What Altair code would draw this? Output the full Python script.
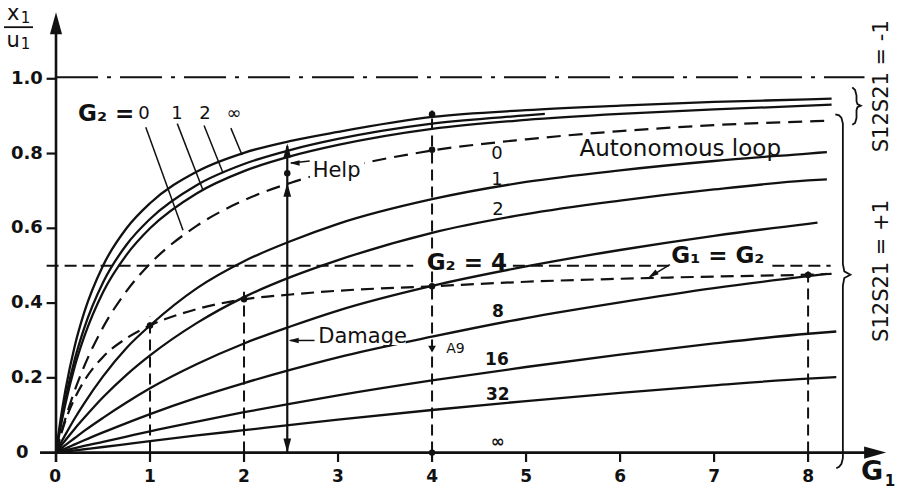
import altair as alt
import pandas as pd

INK = "#111111"
FONT = "DejaVu Sans"

# ---------------- data ----------------
G1 = [0, 0.05, 0.1, 0.2, 0.3, 0.5, 0.75, 1, 1.5, 2, 2.5, 3, 4, 5, 6, 7, 8]

# S12S21 = -1 family (upper solid curves)
NEG_G2_INF = [0, 0.091, 0.167, 0.286, 0.375, 0.500, 0.600, 0.667, 0.752, 0.802, 0.834, 0.858, 0.898, 0.916, 0.928, 0.938, 0.945]
NEG_G2_2 = [0, 0.077, 0.143, 0.250, 0.333, 0.455, 0.556, 0.625, 0.716, 0.772, 0.810, 0.839, 0.880, 0.902]
NEG_G2_1 = [0, 0.070, 0.130, 0.231, 0.310, 0.429, 0.529, 0.600, 0.694, 0.753, 0.793, 0.823, 0.866, 0.890, 0.906, 0.918, 0.928]
# autonomous loop (G2 = 0), dashed
AUTONOMOUS = [0, 0.048, 0.091, 0.167, 0.231, 0.335, 0.432, 0.505, 0.607, 0.675, 0.722, 0.758, 0.808, 0.838, 0.860, 0.876, 0.886]
# S12S21 = +1 family
POS_G2_1 = [0, 0.025, 0.048, 0.092, 0.132, 0.204, 0.280, 0.340, 0.440, 0.512, 0.566, 0.612, 0.678, 0.724, 0.755, 0.780, 0.800]
POS_G2_2 = [0, 0.017, 0.033, 0.064, 0.093, 0.148, 0.208, 0.260, 0.347, 0.416, 0.470, 0.515, 0.588, 0.638, 0.674, 0.704, 0.728]
POS_G2_4 = [0, 0.010, 0.020, 0.039, 0.058, 0.093, 0.134, 0.172, 0.237, 0.292, 0.338, 0.380, 0.446, 0.498, 0.542, 0.580, 0.612]
POS_G2_8 = [0, 0.006, 0.011, 0.022, 0.033, 0.054, 0.079, 0.103, 0.147, 0.186, 0.222, 0.255, 0.310, 0.360, 0.402, 0.440, 0.472]
POS_G2_16 = [0, 0.003, 0.006, 0.012, 0.018, 0.029, 0.043, 0.057, 0.083, 0.108, 0.131, 0.153, 0.193, 0.229, 0.262, 0.292, 0.318]
POS_G2_32 = [0, 0.0015, 0.003, 0.006, 0.009, 0.015, 0.023, 0.031, 0.046, 0.060, 0.074, 0.088, 0.114, 0.138, 0.160, 0.180, 0.198]
# G1 = G2 locus, dashed
G1_EQ_G2 = [0, 0.046, 0.085, 0.146, 0.192, 0.256, 0.306, 0.340, 0.384, 0.410, 0.423, 0.433, 0.445, 0.457, 0.465, 0.471, 0.476]

# where each drawn curve stops (G1, value)
CURVE_END_G1 = [8.25, 5.2, 8.25, 8.25, 8.2, 8.2, 8.1, 8.2, 8.3, 8.3, 8.25]
CURVE_END_VAL = [0.947, 0.906, 0.931, 0.888, 0.804, 0.731, 0.615, 0.478, 0.324, 0.202, 0.478]
CURVE_NAMES = ["neg_inf", "neg_2", "neg_1", "auto", "pos_1", "pos_2", "pos_4", "pos_8", "pos_16", "pos_32", "g1g2"]
CURVE_VALUES = [NEG_G2_INF, NEG_G2_2, NEG_G2_1, AUTONOMOUS, POS_G2_1, POS_G2_2, POS_G2_4,
                POS_G2_8, POS_G2_16, POS_G2_32, G1_EQ_G2]
CURVE_STYLE = ["solid", "solid", "solid", "auto", "solid", "solid", "solid", "solid", "solid", "solid", "g1g2"]

# marked points
DOT_G1 = [4, 4, 4, 4, 1, 2, 8]
DOT_VAL = [0.905, 0.81, 0.445, 0.0, 0.34, 0.41, 0.475]
A9_G1 = [4]
A9_VAL = [0.277]

# ticks
X_TICKS = [0, 1, 2, 3, 4, 5, 6, 7, 8]
Y_TICKS = [0.2, 0.4, 0.6, 0.8, 1.0]
Y_TICK_LABELS = ["0.2", "0.4", "0.6", "0.8", "1.0"]

# reference lines
UNITY = 1.004
HALF = 0.5
HALF_FROM = [-0.1, 4.86, 7.62]
HALF_TO = [3.80, 6.55, 8.24]
DROP_G1 = [1, 2, 4, 8]
DROP_TOP = [0.365, 0.43, 0.915, 0.49]

# ---------------- scales ----------------
xs = alt.Scale(domain=[-0.5, 8.85], nice=False, zero=False)
ys = alt.Scale(domain=[-0.1, 1.2], nice=False, zero=False)


def X(f="x"):
    return alt.X(f"{f}:Q", scale=xs, axis=None)


def Y(f="y"):
    return alt.Y(f"{f}:Q", scale=ys, axis=None)


rows = []
for name, vals, style, ex, ev in zip(CURVE_NAMES, CURVE_VALUES, CURVE_STYLE, CURVE_END_G1, CURVE_END_VAL):
    for g, v in zip(G1, vals):
        rows.append({"curve": name, "style": style, "x": g, "y": v})
    rows.append({"curve": name, "style": style, "x": ex, "y": ev})
curves = pd.DataFrame(rows)

solid = alt.Chart(curves[curves["style"] == "solid"]).mark_line(
    color=INK, strokeWidth=2.3, interpolate="monotone").encode(x=X(), y=Y(), detail="curve:N")
auto = alt.Chart(curves[curves["style"] == "auto"]).mark_line(
    color=INK, strokeWidth=2.2, strokeDash=[14, 8], interpolate="monotone").encode(x=X(), y=Y())
g1g2 = alt.Chart(curves[curves["style"] == "g1g2"]).mark_line(
    color=INK, strokeWidth=2.2, strokeDash=[13, 7], interpolate="monotone").encode(x=X(), y=Y())


def rules(df, **kw):
    return alt.Chart(df).mark_rule(color=INK, **kw).encode(
        x=X("x"), x2=alt.X2("x2:Q"), y=Y("y"), y2=alt.Y2("y2:Q"))


axes_df = pd.DataFrame({"x": [-0.17, 0], "x2": [8.72, 0], "y": [0, -0.025], "y2": [0, 1.12]})
axes = rules(axes_df, strokeWidth=2.6)

xt = pd.DataFrame({"x": X_TICKS[1:], "x2": X_TICKS[1:], "y": [0] * 8, "y2": [-0.025] * 8})
yt = pd.DataFrame({"x": [-0.1] * 5, "x2": [0] * 5, "y": Y_TICKS, "y2": Y_TICKS})
ticks = rules(pd.concat([xt, yt]), strokeWidth=2.2)

unity = rules(pd.DataFrame({"x": [0], "x2": [8.6], "y": [UNITY], "y2": [UNITY]}),
              strokeWidth=2.2, strokeDash=[42, 9, 4, 9])
half = rules(pd.DataFrame({"x": HALF_FROM, "x2": HALF_TO, "y": [HALF] * 3, "y2": [HALF] * 3}),
             strokeWidth=2.0, strokeDash=[12, 6])
drops = rules(pd.DataFrame({"x": DROP_G1, "x2": DROP_G1, "y": [0] * 4, "y2": DROP_TOP}),
              strokeWidth=2.0, strokeDash=[11, 6])

leaders = rules(pd.DataFrame({
    "x": [0.955, 1.29, 1.575, 1.86, 2.78, 2.50, 6.53],
    "x2": [1.351, 1.564, 1.777, 1.979, 2.49, 2.70, 6.32],
    "y": [0.87, 0.88, 0.875, 0.868, 0.30, 0.775, 0.503],
    "y2": [0.595, 0.702, 0.748, 0.796, 0.30, 0.78, 0.471],
}), strokeWidth=1.5)

big_arrow = rules(pd.DataFrame({"x": [2.46], "x2": [2.46], "y": [0.0], "y2": [0.82]}), strokeWidth=2.2)

# braces
brace_rows = []
b1x = [8.29, 8.33, 8.355, 8.37, 8.37, 8.385, 8.45, 8.385, 8.37, 8.37, 8.355, 8.33, 8.30]
b1y = [0.905, 0.902, 0.895, 0.88, 0.505, 0.485, 0.476, 0.467, 0.447, -0.015, -0.03, -0.038, -0.042]
b2x = [8.47, 8.50, 8.515, 8.515, 8.525, 8.56, 8.525, 8.515, 8.515, 8.50, 8.47]
b2y = [0.977, 0.970, 0.955, 0.940, 0.932, 0.928, 0.924, 0.916, 0.895, 0.882, 0.877]
for i, (a, b) in enumerate(zip(b1x, b1y)):
    brace_rows.append({"b": "plus", "o": i, "x": a, "y": b})
for i, (a, b) in enumerate(zip(b2x, b2y)):
    brace_rows.append({"b": "minus", "o": i, "x": a, "y": b})
braces = alt.Chart(pd.DataFrame(brace_rows)).mark_line(color=INK, strokeWidth=1.8).encode(
    x=X(), y=Y(), detail="b:N", order="o:Q")

# white patches where labels interrupt lines
patches = alt.Chart(pd.DataFrame({
    "x": [2.75, 2.70], "x2": [3.72, 3.28], "y": [0.288, 0.728], "y2": [0.332, 0.782]
})).mark_rect(color="white").encode(x=X("x"), x2=alt.X2("x2:Q"), y=Y("y"), y2=alt.Y2("y2:Q"))

# arrowheads
ARROW = "M0,0 L-2,-0.55 L-2,0.55 Z"
heads = alt.Chart(pd.DataFrame({
    "x": [8.83, 0, 2.46, 2.46, 2.46, 2.475, 2.485, 6.30],
    "y": [0, 1.178, 0.827, 0.722, 0.0, 0.30, 0.775, 0.468],
    "angle": [0, 270, 270, 270, 90, 180, 180, 147],
    "size": [484, 484, 196, 196, 196, 100, 100, 110],
})).mark_point(shape=ARROW, filled=True, color=INK, opacity=1, strokeWidth=0).encode(
    x=X(), y=Y(), angle=alt.Angle("angle:Q", scale=None), size=alt.Size("size:Q", scale=None))

dots = alt.Chart(pd.DataFrame({"x": DOT_G1 + [2.46], "y": DOT_VAL + [0.747]})).mark_point(
    shape="circle", filled=True, color=INK, opacity=1, size=42).encode(x=X(), y=Y())
a9 = alt.Chart(pd.DataFrame({"x": A9_G1, "y": A9_VAL})).mark_point(
    shape="triangle-down", filled=True, color=INK, opacity=1, size=60).encode(x=X(), y=Y())


def texts(df, **kw):
    base = dict(color=INK, font=FONT, baseline="middle")
    base.update(kw)
    return alt.Chart(df).mark_text(**base).encode(x=X(), y=Y(), text="text:N")


ytl = texts(pd.DataFrame({"x": [-0.14] * 5, "y": Y_TICKS, "text": Y_TICK_LABELS}),
            fontSize=18, fontWeight="bold", align="right")
y0l = texts(pd.DataFrame({"x": [-0.36], "y": [0.0], "text": ["0"]}), fontSize=18, fontWeight="bold")
xtl = texts(pd.DataFrame({"x": [-0.01] + X_TICKS[1:], "y": [-0.066] * 9, "text": [str(t) for t in X_TICKS]}),
            fontSize=17, fontWeight="bold")

lab_norm = texts(pd.DataFrame({
    "x": [0.936, 1.287, 1.585, 1.894, 4.69, 4.69, 4.70],
    "y": [0.905, 0.905, 0.905, 0.905, 0.80, 0.729, 0.649],
    "text": ["0", "1", "2", "∞", "0", "1", "2"],
}), fontSize=18)
lab_bold = texts(pd.DataFrame({
    "x": [4.70, 4.69, 4.70, 4.70],
    "y": [0.376, 0.247, 0.154, 0.028],
    "text": ["8", "16", "32", "∞"],
}), fontSize=17, fontWeight="bold")

g_left = texts(pd.DataFrame({"x": [0.234], "y": [0.905], "text": ["G₂ ="]}),
               fontSize=23, fontWeight="bold", align="left")
g_center = texts(pd.DataFrame({"x": [4.37, 7.04], "y": [0.507, 0.526], "text": ["G₂ = 4", "G₁ = G₂"]}),
                 fontSize=23, fontWeight="bold")

words = texts(pd.DataFrame({"x": [6.64], "y": [0.812], "text": ["Autonomous loop"]}), fontSize=23)
words_left = texts(pd.DataFrame({"x": [2.73, 2.79], "y": [0.752, 0.31], "text": ["Help", "Damage"]}),
                   fontSize=21, align="left")
a9_lab = texts(pd.DataFrame({"x": [4.15], "y": [0.276], "text": ["A9"]}), fontSize=14, align="left")

side = texts(pd.DataFrame({"x": [8.79, 8.79], "y": [0.98, 0.486], "text": ["S12S21 = -1", "S12S21 = +1"]}),
             fontSize=21, angle=270)

# axis titles
ytitle_big = texts(pd.DataFrame({"x": [-0.455, -0.455], "y": [1.173, 1.102], "text": ["x", "u"]}), fontSize=21)
ytitle_sub = texts(pd.DataFrame({"x": [-0.325, -0.325], "y": [1.163, 1.092], "text": ["1", "1"]}), fontSize=15)
frac = rules(pd.DataFrame({"x": [-0.553], "x2": [-0.245], "y": [1.138], "y2": [1.138]}), strokeWidth=1.8)
xtitle_g = texts(pd.DataFrame({"x": [8.68], "y": [-0.052], "text": ["G"]}), fontSize=27, fontWeight="bold")
xtitle_s = texts(pd.DataFrame({"x": [8.87], "y": [-0.076], "text": ["1"]}), fontSize=15, fontWeight="bold")

chart = alt.layer(
    unity, half, drops, solid, auto, g1g2, axes, ticks, leaders, big_arrow, braces,
    patches, heads, dots, a9,
    ytl, y0l, xtl, lab_norm, lab_bold, g_left, g_center, words, words_left, a9_lab, side,
    ytitle_big, ytitle_sub, frac, xtitle_g, xtitle_s,
).properties(
    width=879, height=486,
    padding={"left": 9, "top": 4, "right": 12, "bottom": 2},
    autosize=alt.AutoSizeParams(type="none"),
    background="white",
).configure_view(stroke=None)

chart.save("out.html", embed_options={"renderer": "svg", "actions": False})
